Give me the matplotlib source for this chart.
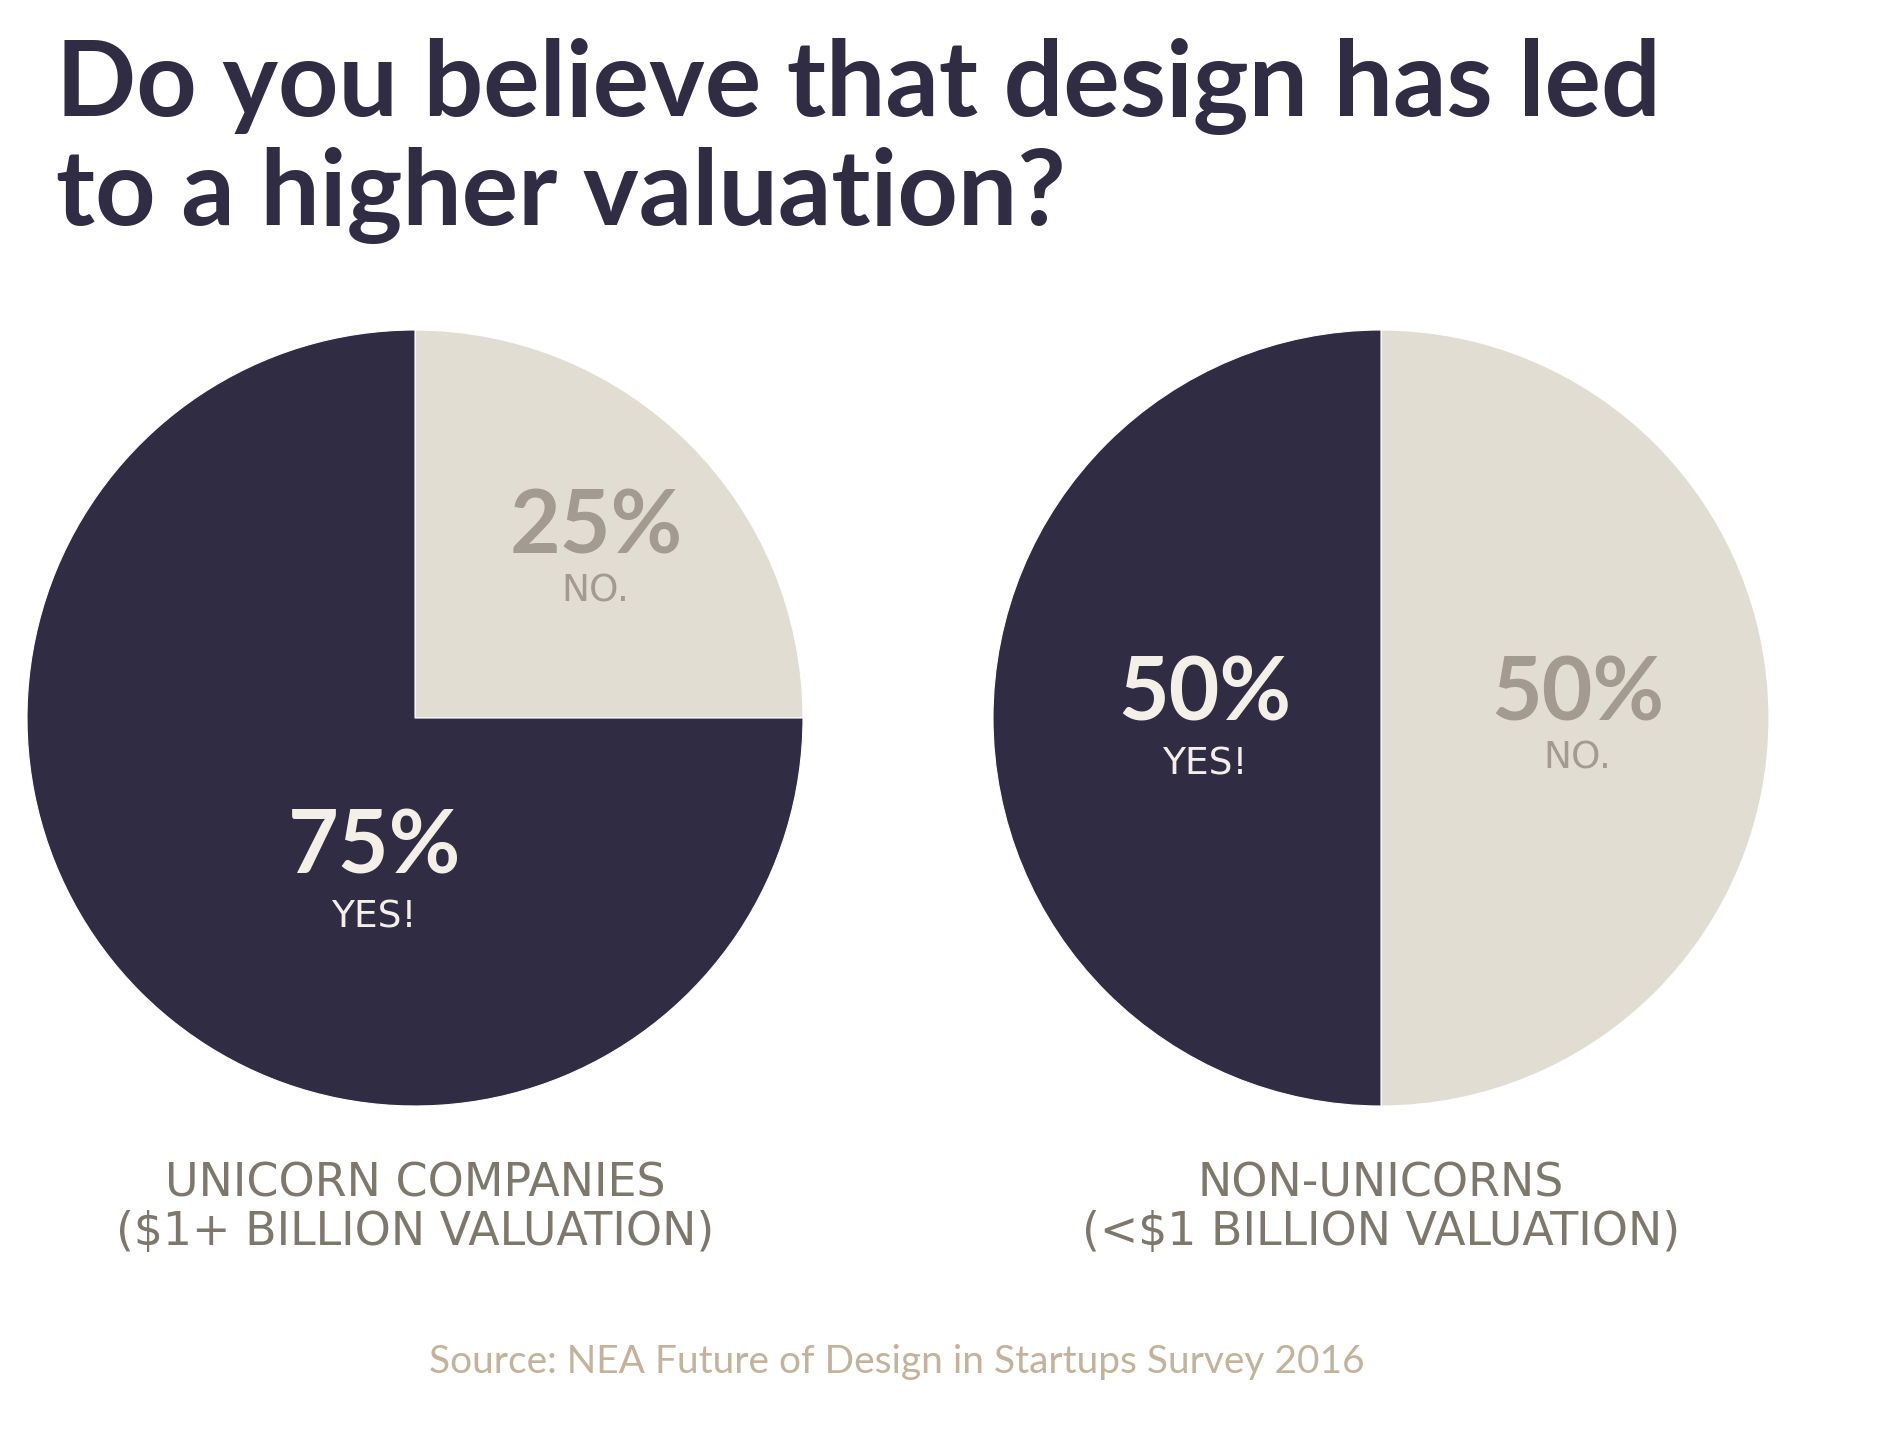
import matplotlib.pyplot as plt

# ---------------------- Data ----------------------

title = "Do you believe that design has led\nto a higher valuation?"
groups = ["UNICORN COMPANIES\n($1+ BILLION VALUATION)",
          "NON-UNICORNS\n(<$1 BILLION VALUATION)"]
answers = ["NO.", "YES!"]
no_share = [25, 50]
yes_share = [75, 50]
source = "Source: NEA Future of Design in Startups Survey 2016"

# ---------------------- Style ----------------------

DARK = "#302c44"
BEIGE = "#e2ddd3"
CREAM = "#f4f0e7"
LABEL_GREY = "#a39b8f"
GROUP_GREY = "#7d776c"
SOURCE_TAN = "#c3b29c"

W, H = 1879, 1440
fig = plt.figure(figsize=(W / 100, H / 100), dpi=100)
fig.patch.set_facecolor("white")

# pie centres / radius in pixels
centres = [(415, 718), (1381, 718)]
R = 388

# label positions (axes data units, radius = 1): NO label, YES label
no_pos = [(0.466, 0.49), (0.506, 0.06)]
yes_pos = [(-0.105, -0.335), (-0.455, 0.06)]

for i, (cx, cy) in enumerate(centres):
    ax = fig.add_axes([(cx - R) / W, (H - cy - R) / H, 2 * R / W, 2 * R / H])
    ax.pie([no_share[i], yes_share[i]], colors=[BEIGE, DARK], startangle=90,
           counterclock=False, radius=1,
           wedgeprops=dict(edgecolor="white", linewidth=0.8))
    ax.set_xlim(-1, 1)
    ax.set_ylim(-1, 1)
    ax.set_aspect("equal")
    ax.axis("off")

    nx, ny = no_pos[i]
    ax.text(nx, ny, f"{no_share[i]}%", ha="center", va="center",
            fontsize=63, fontweight="bold", family="Lato", color=LABEL_GREY)
    ax.text(nx, ny - 0.165, answers[0], ha="center", va="center",
            fontsize=27, family="DejaVu Sans", color=LABEL_GREY)

    yx, yy = yes_pos[i]
    ax.text(yx, yy, f"{yes_share[i]}%", ha="center", va="center",
            fontsize=63, fontweight="bold", family="Lato", color=CREAM)
    ax.text(yx, yy - 0.18, answers[1], ha="center", va="center",
            fontsize=27, family="DejaVu Sans", color=CREAM)

    fig.text(cx / W, 1 - 1208 / H, groups[i], ha="center", va="center",
             fontsize=33, family="DejaVu Sans", color=GROUP_GREY,
             linespacing=1.1)

# ---------------------- Titles ----------------------

fig.text(56 / W, 1 - 38 / H, title, ha="left", va="top", fontsize=76,
         fontweight="bold", family="Lato", color=DARK, linespacing=1.16)

fig.text(897 / W, 1 - 1362 / H, source, ha="center", va="center",
         fontsize=28, family="Lato", color=SOURCE_TAN)

fig.savefig("out.png", dpi=100, facecolor="white")
